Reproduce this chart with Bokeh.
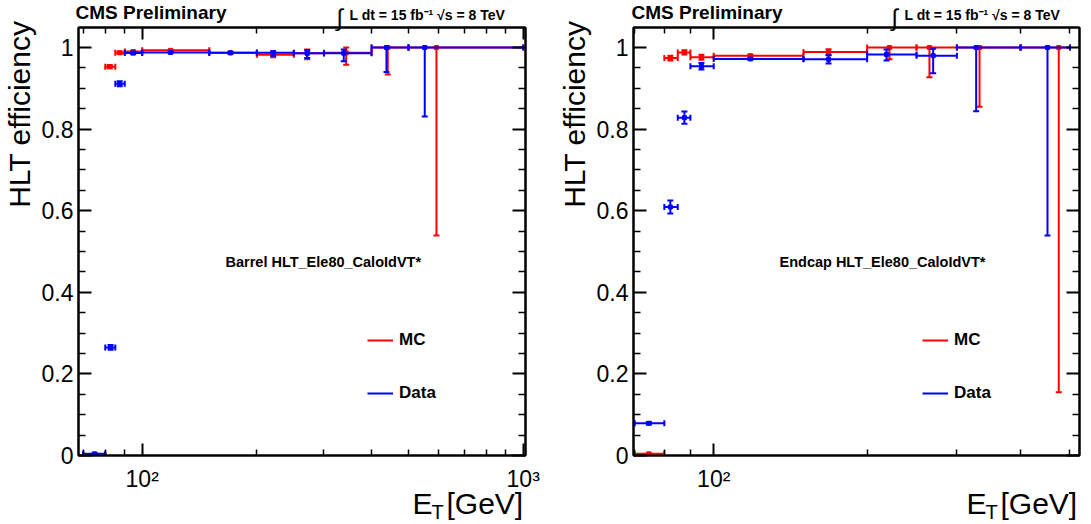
import math
from bokeh.plotting import figure
from bokeh.models import (FixedTicker, LogAxis, LinearAxis, Label, Legend, LegendItem,
                          ColumnDataSource, Range1d, CustomJSTickFormatter, GridBox, Column)
from bokeh.embed import file_html
from bokeh.resources import INLINE

# ---------------- data ----------------
# Barrel
barrel_bin_lo = [70, 80, 85, 90, 100, 150, 200, 250, 300, 400, 500]
barrel_bin_hi = [80, 85, 90, 100, 150, 200, 250, 300, 400, 500, 1000]
barrel_mc_x = [75, 82.2, 87.3, 94.7, 118.7, 170.5, 220.7, 271.1, 343.1, 441, 592]
barrel_mc_eff = [0.001, 0.953, 0.987, 0.990, 0.993, 0.987, 0.982, 0.986, 0.987, 1.0, 1.0]
barrel_mc_elo = [0.001, 0.004, 0.003, 0.002, 0.001, 0.002, 0.006, 0.015, 0.029, 0.066, 0.461]
barrel_mc_ehi = [0.001, 0.004, 0.003, 0.002, 0.001, 0.002, 0.006, 0.009, 0.013, 0.0, 0.0]
barrel_data_x = [75, 82.6, 87.3, 94.7, 118.7, 170.5, 220.7, 271.1, 338.1, 437.7, 551.6]
barrel_data_eff = [0.004, 0.265, 0.911, 0.9865, 0.988, 0.987, 0.987, 0.986, 0.986, 1.0, 1.0]
barrel_data_elo = [0.002, 0.006, 0.006, 0.003, 0.001, 0.002, 0.007, 0.012, 0.020, 0.060, 0.169]
barrel_data_ehi = [0.002, 0.006, 0.006, 0.003, 0.001, 0.002, 0.004, 0.007, 0.009, 0.0, 0.0]

# Endcap
endcap_bin_lo = [70, 80, 85, 90, 100, 150, 200, 250, 300, 400]
endcap_bin_hi = [80, 85, 90, 100, 150, 200, 250, 300, 400, 500]
endcap_mc_x = [74.6, 82.2, 87.6, 94.6, 118, 168, 221.2, 265, 332.3, 475.3]
endcap_mc_eff = [0.004, 0.974, 0.988, 0.976, 0.980, 0.989, 1.0, 1.0, 1.0, 1.0]
endcap_mc_elo = [0.002, 0.006, 0.005, 0.006, 0.002, 0.007, 0.029, 0.073, 0.145, 0.845]
endcap_mc_ehi = [0.002, 0.006, 0.005, 0.006, 0.002, 0.007, 0.0, 0.0, 0.0, 0.0]
endcap_data_x = [74.6, 82.2, 87.6, 94.6, 118, 168, 218.3, 269.5, 327.3, 451.7]
endcap_data_eff = [0.079, 0.609, 0.828, 0.954, 0.972, 0.971, 0.983, 0.980, 1.0, 1.0]
endcap_data_elo = [0.003, 0.016, 0.015, 0.008, 0.002, 0.010, 0.015, 0.043, 0.156, 0.461]
endcap_data_ehi = [0.003, 0.016, 0.015, 0.008, 0.002, 0.010, 0.012, 0.017, 0.0, 0.0]

y_ticks = [0, 0.2, 0.4, 0.6, 0.8, 1.0]
y_minor = [0.05, 0.1, 0.15, 0.25, 0.3, 0.35, 0.45, 0.5, 0.55, 0.65, 0.7, 0.75, 0.85, 0.9, 0.95]
x_major = [100, 1000]
x_minor = [70, 80, 90, 200, 300, 400, 500, 600, 700, 800, 900]
x_labels = {100: "10\u00b2", 1000: "10\u00b3"}

header_left = "CMS Preliminary"
header_right = "L dt = 15 fb\u207b\u00b9 \u221as = 8 TeV"
y_title = "HLT efficiency"

RED = "#ff0000"
BLUE = "#0000ff"
FONT = "Liberation Sans"
H = 524
FT, FB = 27, 455
YMAX = 428.0 / 408.0


def draw_series(p, lo, hi, x, eff, elo, ehi, color):
    src = ColumnDataSource(dict(
        lo=lo, hi=hi, x=x, y=eff,
        ylo=[e - a for e, a in zip(eff, elo)],
        yhi=[e + b for e, b in zip(eff, ehi)],
    ))
    h = p.segment(x0="lo", y0="y", x1="hi", y1="y", source=src, line_color=color, line_width=2)
    p.segment(x0="x", y0="ylo", x1="x", y1="yhi", source=src, line_color=color, line_width=2)
    for cx, cy, ang in (("lo", "y", math.pi / 2), ("hi", "y", math.pi / 2),
                        ("x", "ylo", 0), ("x", "yhi", 0)):
        p.scatter(x=cx, y=cy, source=src, marker="dash", angle=ang, size=6,
                  line_color=color, line_width=2)
    p.scatter(x="x", y="y", source=src, marker="square", size=4,
              fill_color=color, line_color=color)
    return h


def make_panel(width, fl, fr, xmin, xmax, series):
    p = figure(width=width, height=H, x_axis_type="log",
               x_range=Range1d(xmin, xmax), y_range=Range1d(0, YMAX),
               output_backend="svg", toolbar_location=None,
               min_border_left=fl, min_border_right=width - fr,
               min_border_top=FT, min_border_bottom=H - FB)
    p.grid.visible = False
    p.outline_line_color = "black"
    p.outline_line_width = 2
    p.background_fill_color = "white"
    p.border_fill_color = "white"

    xt = FixedTicker(ticks=x_major, minor_ticks=x_minor)
    yt = FixedTicker(ticks=y_ticks, minor_ticks=y_minor)

    xa = p.xaxis[0]
    xa.ticker = xt
    xa.major_label_overrides = x_labels
    xa.major_label_text_font = FONT
    xa.major_label_text_font_size = "23px"
    xa.major_label_text_color = "black"
    xa.major_label_standoff = 10
    ya = p.yaxis[0]
    ya.ticker = yt
    ya.formatter = CustomJSTickFormatter(code="return String(tick)")
    ya.major_label_text_font = FONT
    ya.major_label_text_font_size = "23px"
    ya.major_label_text_color = "black"
    ya.major_label_standoff = 5

    top = LogAxis(ticker=xt, major_label_text_font_size="1px", major_label_text_alpha=0,
                  major_label_standoff=0)
    right = LinearAxis(ticker=yt, major_label_text_font_size="1px", major_label_text_alpha=0,
                       major_label_standoff=0)
    p.add_layout(top, "above")
    p.add_layout(right, "right")

    for ax, mj, mn in ((xa, 12, 6), (top, 12, 6), (ya, 13, 7), (right, 13, 7)):
        ax.major_tick_in = mj
        ax.major_tick_out = 0
        ax.minor_tick_in = mn
        ax.minor_tick_out = 0
        ax.major_tick_line_width = 2
        ax.minor_tick_line_width = 1.5
        ax.major_tick_line_color = "black"
        ax.minor_tick_line_color = "black"
        ax.axis_line_width = 2
        ax.axis_line_color = "black"

    lo, hi, mcx, mce, mcl, mch, dx, de, dl, dh = series
    r_mc = draw_series(p, lo, hi, mcx, mce, mcl, mch, RED)
    r_data = draw_series(p, lo, hi, dx, de, dl, dh, BLUE)

    legend = Legend(items=[LegendItem(label="MC", renderers=[r_mc]),
                           LegendItem(label="Data", renderers=[r_data])],
                    location=(289, 52), glyph_width=26, glyph_height=20,
                    label_height=20, label_standoff=6, spacing=33, padding=0, margin=0,
                    label_text_font=FONT, label_text_font_size="17px",
                    label_text_font_style="bold", label_text_color="black",
                    background_fill_alpha=0, border_line_alpha=0)
    p.add_layout(legend, "center")
    return p


def make_overlay(width, tag, pos):
    o = figure(width=width, height=H, x_range=Range1d(0, width), y_range=Range1d(0, H),
               output_backend="svg", toolbar_location=None,
               x_axis_location=None, y_axis_location=None,
               min_border=0, min_border_left=0, min_border_right=0,
               min_border_top=0, min_border_bottom=0)
    o.grid.visible = False
    o.outline_line_color = None
    o.background_fill_alpha = 0
    o.border_fill_alpha = 0

    def lab(px, py, text, size, bold=False, angle=0, align="left"):
        o.add_layout(Label(x=px, y=H - py, text=text, text_font=FONT,
                           text_font_size=f"{size}px",
                           text_font_style="bold" if bold else "normal",
                           angle=angle, text_align=align, text_baseline="alphabetic",
                           text_color="black"))

    lab(pos["cms"], 12, header_left, 19, bold=True)
    lab(pos["int"], 17, "\u222b", 24)
    lab(pos["lumi"], 14, header_right, 14, bold=True)
    lab(pos["tag"], 261, tag, 14.5, bold=True)
    lab(pos["yt"], 20, y_title, 30, angle=math.pi / 2, align="right")
    lab(pos["E"], 503, "E", 30)
    lab(pos["T"], 511, "T", 20)
    lab(pos["G"], 503, "[GeV]", 30)
    return Column(children=[o], width=width, height=H)


p1 = make_panel(545, 78, 525, 68.05, 1014,
                (barrel_bin_lo, barrel_bin_hi, barrel_mc_x, barrel_mc_eff, barrel_mc_elo,
                 barrel_mc_ehi, barrel_data_x, barrel_data_eff, barrel_data_elo, barrel_data_ehi))
o1 = make_overlay(545, "Barrel HLT_Ele80_CaloIdVT*",
                  dict(cms=75, int=336, lumi=349, tag=225, yt=19, E=412, T=431, G=446))
p2 = make_panel(546, 88, 534, 69.6, 522,
                (endcap_bin_lo, endcap_bin_hi, endcap_mc_x, endcap_mc_eff, endcap_mc_elo,
                 endcap_mc_ehi, endcap_data_x, endcap_data_eff, endcap_data_elo, endcap_data_ehi))
o2 = make_overlay(546, "Endcap HLT_Ele80_CaloIdVT*",
                  dict(cms=86, int=346, lumi=359, tag=234, yt=29, E=421, T=440, G=455))

grid = GridBox(children=[(p1, 0, 0), (o1, 0, 0), (p2, 0, 1), (o2, 0, 1)], spacing=0)
open("out.html", "w").write(file_html(grid, INLINE))
